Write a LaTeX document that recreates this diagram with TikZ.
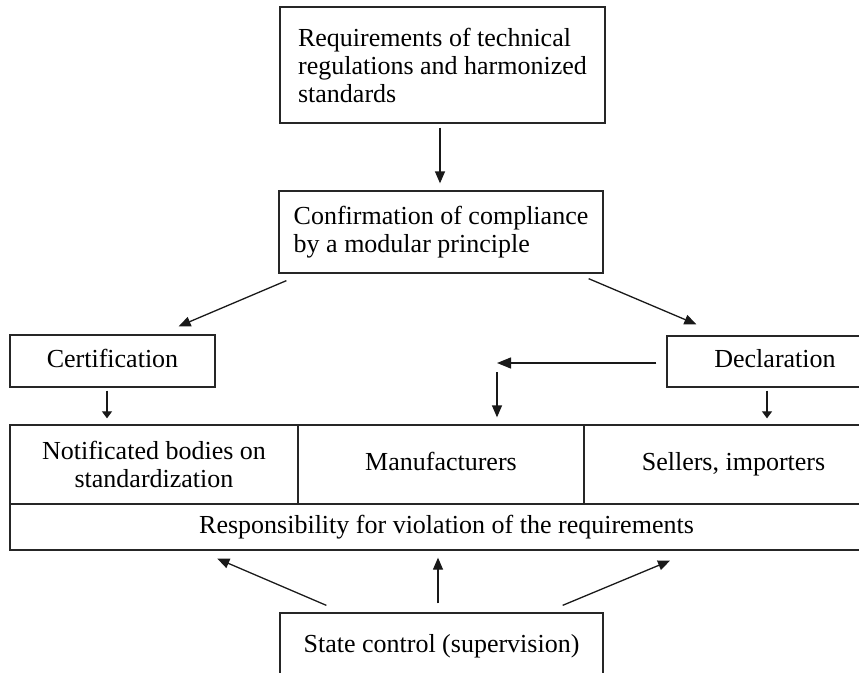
\documentclass[tikz,border=0pt]{standalone}
\usepackage{fontspec}
\setmainfont{Liberation Serif}
\usetikzlibrary{arrows.meta,calc}
\newcommand\mainsz{\fontsize{26}{28}\selectfont}
\begin{document}
\begin{tikzpicture}[x=1pt,y=-1pt,
  box/.style={draw=black!85, line width=1.3pt, inner sep=0pt, font=\mainsz},
  onebox/.style={box, text height=18pt, text depth=6pt},
  arr/.style={draw=black!90, line width=1.3pt, -{Triangle[length=12pt,width=10pt]}},
  harr/.style={draw=black!90, line width=1.3pt, -{Triangle[length=14pt,width=11pt]}},
  sarr/.style={draw=black!90, line width=1.2pt, -{Triangle[length=7pt,width=10pt]}}]
\useasboundingbox (0,0) rectangle (859,672);
\clip (0,0) rectangle (859,672);
\node[box, minimum width=325pt, minimum height=116pt, align=left] (req) at (442.5,65) {Requirements of technical\\regulations and harmonized\\standards};
\node[box, minimum width=324pt, minimum height=82pt, align=left] (conf) at (441,232) {Confirmation of compliance\\by a modular principle};
\node[onebox, minimum width=205pt, minimum height=52pt] (cert) at (112.5,361) {Certification};
\node[onebox, minimum width=216pt, minimum height=51pt] (decl) at (775,361.5) {Declaration};
\node[box, minimum width=288pt, minimum height=79pt, align=center] (nb) at (154,464.5) {Notificated bodies on\\standardization};
\node[onebox, minimum width=286pt, minimum height=79pt] (man) at (441,464.5) {Manufacturers};
\node[onebox, minimum width=299pt, minimum height=79pt] (sel) at (733.5,464.5) {Sellers, importers};
\node[onebox, minimum width=873pt, minimum height=46pt] (resp) at (446.5,527) {Responsibility for violation of the requirements};
\node[onebox, minimum width=323pt, minimum height=66pt] (state) at (441.5,646) {State control (supervision)};
% connector ends
\coordinate (c0s) at ($(req.south)+(-2.5,4)$);
\coordinate (c0e) at ($(conf.north)+(-1,-7)$);
\coordinate (c1s) at ($(conf.south west)+(8,7)$);
\coordinate (c1e) at ($(cert.north east)+(-37,-8)$);
\coordinate (c2s) at ($(conf.south east)+(-15,5)$);
\coordinate (c2e) at ($(decl.north west)+(30,-11)$);
\coordinate (c3s) at ($(cert.south)+(-5.5,3)$);
\coordinate (c3e) at ($(nb.north)+(-47,-6)$);
\coordinate (c4s) at ($(decl.west)+(-10,1.5)$);
\coordinate (hj) at (497,363);
\coordinate (hd) at (497,372);
\coordinate (c5e) at ($(man.north)+(56,-7)$);
\coordinate (c6s) at ($(decl.south)+(-8,3)$);
\coordinate (c6e) at ($(sel.north)+(33.5,-6)$);
\coordinate (s1s) at ($(state.north west)+(47,-7)$);
\coordinate (s1e) at ($(resp.south west)+(208,8)$);
\coordinate (s2s) at ($(state.north)+(-3.5,-9)$);
\coordinate (s2e) at ($(resp.south)+(-8.5,7)$);
\coordinate (s3s) at ($(state.north east)+(-41,-7)$);
\coordinate (s3e) at ($(resp.south)+(223.5,10)$);
\draw[arr] (c0s) -- (c0e);
\draw[arr] (c1s) -- (c1e);
\draw[arr] (c2s) -- (c2e);
\draw[sarr] (c3s) -- (c3e);
\draw[harr] (c4s) -- (hj);
\draw[arr] (hd) -- (c5e);
\draw[sarr] (c6s) -- (c6e);
\draw[arr] (s1s) -- (s1e);
\draw[arr] (s2s) -- (s2e);
\draw[arr] (s3s) -- (s3e);
\end{tikzpicture}
\end{document}
